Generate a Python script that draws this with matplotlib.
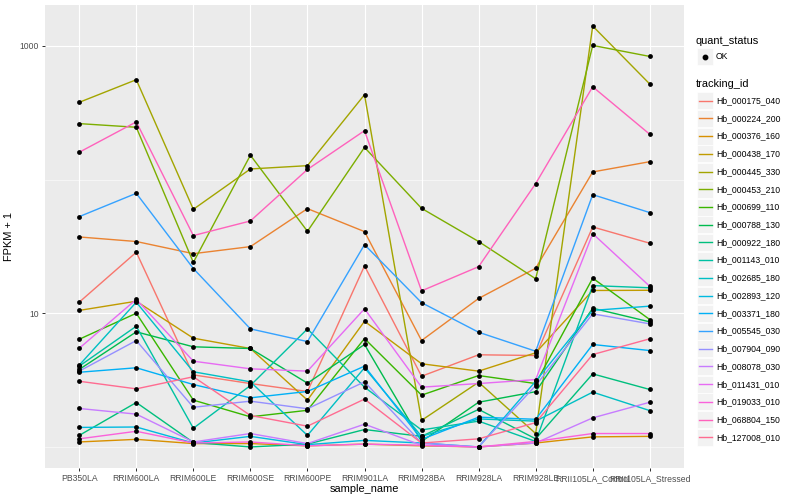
import numpy as np
import matplotlib
matplotlib.use('Agg')
import matplotlib.pyplot as plt
from matplotlib.patches import Rectangle
from matplotlib.lines import Line2D

plt.rcParams['font.family'] = ['Liberation Sans', 'DejaVu Sans']

# ---- veri (FPKM + 1) ----
samples = ['PB350LA', 'RRIM600LA', 'RRIM600LE', 'RRIM600SE', 'RRIM600PE', 'RRIM901LA',
           'RRIM928BA', 'RRIM928LA', 'RRIM928LE', 'RRII105LA_Control', 'RRII105LA_Stressed']

hb_000175_040 = [12.1, 28.6, 3.46, 2.98, 2.60, 22.6, 3.38, 4.89, 4.83, 44.2, 33.4]
hb_000224_200 = [37.2, 34.4, 27.9, 31.5, 60.6, 40.8, 6.25, 12.9, 21.7, 114, 136]
hb_000376_160 = [1.09, 1.14, 1.06, 1.06, 1.02, 1.05, 1.02, 1.0, 1.07, 1.19, 1.20]
hb_000438_170 = [10.5, 12.3, 6.51, 5.45, 2.24, 8.71, 4.19, 3.69, 5.06, 14.8, 14.85]
hb_000445_330 = [378, 558, 59.9, 120, 127, 431, 1.58, 3.05, 1.26, 1406, 518]
hb_000453_210 = [262, 246, 24.0, 152, 41.0, 174, 60.9, 34.4, 18.1, 1007, 833]
hb_000699_110 = [6.39, 10.0, 2.24, 1.68, 1.88, 6.47, 2.44, 3.42, 2.98, 18.3, 8.97]
hb_000788_130 = [3.80, 7.26, 5.61, 5.45, 3.00, 5.84, 1.10, 2.16, 2.59, 10.9, 8.62]
hb_000922_180 = [1.22, 2.15, 1.08, 1.0, 1.05, 1.35, 1.20, 1.91, 1.15, 3.52, 2.69]
hb_001143_010 = [4.02, 8.00, 1.38, 2.88, 7.64, 2.80, 1.34, 1.56, 1.10, 16.1, 15.5]
hb_002685_180 = [4.09, 12.1, 3.65, 3.07, 1.22, 3.91, 1.20, 1.62, 1.56, 2.57, 1.87]
hb_002893_120 = [1.40, 1.41, 1.07, 1.20, 1.04, 1.12, 1.07, 1.0, 3.10, 10.5, 11.3]
hb_003371_180 = [3.62, 3.91, 2.93, 2.33, 2.60, 4.02, 1.14, 1.67, 1.61, 5.84, 5.26]
hb_005545_030 = [52.8, 78.9, 21.6, 7.64, 6.14, 32.6, 12.0, 7.21, 5.20, 77.1, 56.6]
hb_007904_090 = [3.69, 6.25, 1.98, 2.20, 1.93, 3.07, 1.07, 1.0, 2.88, 9.9, 8.33]
hb_008078_030 = [1.94, 1.76, 1.09, 1.26, 1.06, 1.48, 1.03, 1.0, 1.07, 1.65, 2.16]
hb_011431_010 = [5.47, 12.7, 4.38, 3.84, 3.69, 10.8, 2.80, 2.98, 3.19, 39.4, 15.9]
hb_019033_010 = [1.15, 1.31, 1.07, 1.09, 1.02, 1.05, 1.03, 1.0, 1.10, 1.26, 1.26]
hb_068804_150 = [160, 270, 38.1, 49.0, 119, 232, 14.7, 22.3, 93.2, 494, 218]
hb_127008_010 = [3.10, 2.72, 3.35, 1.72, 1.43, 2.28, 1.07, 1.15, 1.52, 4.91, 6.44]

tracking_ids = ['Hb_000175_040', 'Hb_000224_200', 'Hb_000376_160', 'Hb_000438_170', 'Hb_000445_330',
                'Hb_000453_210', 'Hb_000699_110', 'Hb_000788_130', 'Hb_000922_180', 'Hb_001143_010',
                'Hb_002685_180', 'Hb_002893_120', 'Hb_003371_180', 'Hb_005545_030', 'Hb_007904_090',
                'Hb_008078_030', 'Hb_011431_010', 'Hb_019033_010', 'Hb_068804_150', 'Hb_127008_010']
series = [hb_000175_040, hb_000224_200, hb_000376_160, hb_000438_170, hb_000445_330,
          hb_000453_210, hb_000699_110, hb_000788_130, hb_000922_180, hb_001143_010,
          hb_002685_180, hb_002893_120, hb_003371_180, hb_005545_030, hb_007904_090,
          hb_008078_030, hb_011431_010, hb_019033_010, hb_068804_150, hb_127008_010]

# ggplot hue paleti (20 renk)
renkler = ['#F8766D', '#EA8331', '#D89000', '#C09B00', '#A3A500', '#7CAE00', '#39B600', '#00BB4E',
           '#00BF7D', '#00C1A3', '#00BFC4', '#00BAE0', '#00B0F6', '#35A2FF', '#9590FF', '#C77CFF',
           '#E76BF3', '#FA62DB', '#FF62BC', '#FF6C91']

W, H = 800, 500
fig = plt.figure(figsize=(8, 5), dpi=100)
px = 72 / 100  # piksel -> punto

ax = fig.add_axes([45 / W, 1 - 468 / H, (684 - 45) / W, (468 - 5) / H])
ax.set_facecolor('#EBEBEB')
ax.set_yscale('log')

x = np.arange(len(samples))
for vals, c in zip(series, renkler):
    ax.plot(x, vals, color=c, lw=1.4 * px, zorder=3)
for vals in series:
    ax.scatter(x, vals, s=12, color='black', zorder=4, linewidths=0)

# eksen sınırları (log uzayında %5 genişletme)
tum = np.concatenate([np.array(v) for v in series])
lo, hi = np.log10(tum.min()), np.log10(tum.max())
pad = (hi - lo) * 0.05
ax.set_ylim(10 ** (lo - pad), 10 ** (hi + pad))
ax.set_xlim(-0.6, len(samples) - 0.4)

ax.set_yticks([10, 1000])
ax.set_yticklabels(['10', '1000'])
ax.set_yticks([1, 100], minor=True)
ax.yaxis.set_minor_formatter(matplotlib.ticker.NullFormatter())
ax.set_xticks(x)
ax.set_xticklabels(samples)

ax.grid(True, which='major', color='white', lw=1.1 * px, zorder=0)
ax.grid(True, which='minor', axis='y', color='white', lw=0.55 * px, zorder=0)
ax.set_axisbelow(True)
for s in ax.spines.values():
    s.set_visible(False)
ax.tick_params(which='major', length=3 * px, width=1.0 * px, color='#333333',
               labelsize=8.6 * px, labelcolor='#4D4D4D', pad=2)
ax.tick_params(which='minor', length=0)

ax.set_xlabel('sample_name', fontsize=11 * px, color='black', labelpad=1)
ax.set_ylabel('FPKM + 1', fontsize=11 * px, color='black', labelpad=4)

# ---- lejant (ggplot tarzı, elle) ----
def fx(v):
    return v / W

def fy(v):
    return 1 - v / H

fig.text(fx(696), fy(41), 'quant_status', fontsize=11 * px, va='center', ha='left')
fig.add_artist(Rectangle((fx(697), fy(65)), 16 / W, 17 / H, transform=fig.transFigure,
                         facecolor='#F2F2F2', edgecolor='white', lw=0.5))
fig.add_artist(Line2D([fx(705)], [fy(56.5)], marker='o', ms=3.2, color='black',
                      transform=fig.transFigure, lw=0))
fig.text(fx(716), fy(56.5), 'OK', fontsize=8.6 * px, va='center', ha='left')

fig.text(fx(696), fy(84), 'tracking_id', fontsize=11 * px, va='center', ha='left')
y0, dy = 100.7, 17.72
for i, (ad, c) in enumerate(zip(tracking_ids, renkler)):
    yc = y0 + i * dy
    fig.add_artist(Rectangle((fx(697), fy(yc + 8.5)), 16 / W, 17 / H, transform=fig.transFigure,
                             facecolor='#F2F2F2', edgecolor='white', lw=0.5))
    fig.add_artist(Line2D([fx(699), fx(712)], [fy(yc), fy(yc)], color=c, lw=1.4 * px,
                          transform=fig.transFigure))
    fig.text(fx(716), fy(yc), ad, fontsize=8.6 * px, va='center', ha='left')

fig.savefig('out.png', dpi=100)
